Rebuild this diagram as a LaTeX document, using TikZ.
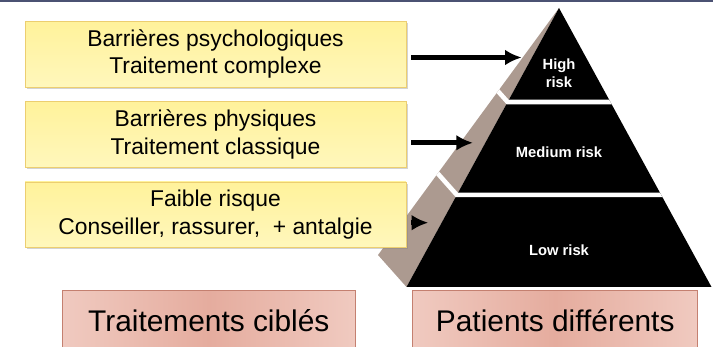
\documentclass[tikz,border=0pt]{standalone}
\usepackage{fontspec}
\setmainfont{Liberation Sans}
\usetikzlibrary{arrows.meta,calc,shadows}
\definecolor{slatebar}{RGB}{75,82,115}
\definecolor{noteyellow}{RGB}{255,242,155}
\definecolor{noteyellowlt}{RGB}{255,247,188}
\definecolor{noteedge}{RGB}{236,206,112}
\definecolor{rosefill}{RGB}{229,172,158}
\definecolor{rosefilllt}{RGB}{240,202,192}
\definecolor{roseedge}{RGB}{196,128,112}
\definecolor{sideface}{RGB}{172,154,144}

\begin{document}
\begin{tikzpicture}[x=0.02cm,y=-0.02cm,
  note/.style={draw=noteedge,top color=noteyellow,bottom color=noteyellowlt,
    minimum width=7.62cm,minimum height=1.31cm,align=center,
    font=\fontsize{13}{15.6}\selectfont,
    drop shadow={shadow xshift=1.1pt,shadow yshift=-1.1pt,opacity=0.35}},
  tag/.style={draw=roseedge,left color=rosefilllt,right color=rosefilllt,
    middle color=rosefill,minimum height=1.24cm,font=\fontsize{17}{20}\selectfont},
  tier/.style={text=white,font=\fontsize{8.4}{10.4}\selectfont\bfseries,align=center},
  gap/.style={white,line width=2.6pt},
  arr/.style={line width=2.7pt,-{Latex[length=9.5pt,width=9pt]},shorten <=2.8pt}]
  \useasboundingbox (0,0) rectangle (713,347);
  \clip (0,0) rectangle (713,347);
  \fill[slatebar] (0,0) rectangle (713,2);

  % pyramid: side face, front face, then the white cuts between tiers
  \coordinate (apex) at (559,8);
  \coordinate (back) at (378,255);
  \coordinate (frontL) at (406.5,287);
  \coordinate (frontR) at (711.5,287);
  \fill[sideface] (apex) -- (back) -- (frontL) -- cycle;
  \fill[black] (apex) -- (frontL) -- (frontR) -- cycle;
  \begin{scope}
    \clip (apex) -- (back) -- (frontL) -- (frontR) -- cycle;
    \foreach \t in {0.337,0.670}
      \draw[gap] ($(apex)!\t!(back)+(-10,-10)$) -- ($(apex)!\t!(back)$)
        -- ($(apex)!\t!(frontL)$) -- ($(apex)!\t!(frontR)+(20,0)$);
  \end{scope}
  \node[tier] (high) at (559,73) {High\\risk};
  \node[tier] (medium) at (559,152) {Medium risk};
  \node[tier] (low) at (559,250) {Low risk};

  % what each level gets
  \node[note] (psy) at (215.5,54.2) {Barrières psychologiques\\Traitement complexe};
  \node[note] (phys) at (215.5,134.5) {Barrières physiques\\Traitement classique};
  \node[note] (faible) at (215.5,214.6) {Faible risque\\Conseiller, rassurer,\ \ + antalgie};

  \coordinate (hiTip) at (521.7,57.5);
  \coordinate (medTip) at (473,142.8);
  \coordinate (lowTip) at (428.3,222.7);
  \draw[arr] (psy.east |- hiTip) -- (hiTip);
  \draw[arr] (phys.east |- medTip) -- (medTip);
  \draw[arr] (faible.east |- lowTip) -- (lowTip);

  \node[tag,minimum width=5.85cm] (cibles) at (208.8,321) {Traitements ciblés};
  \node[tag,minimum width=5.7cm] (patients) at (555.2,321) {Patients différents};
\end{tikzpicture}
\end{document}
